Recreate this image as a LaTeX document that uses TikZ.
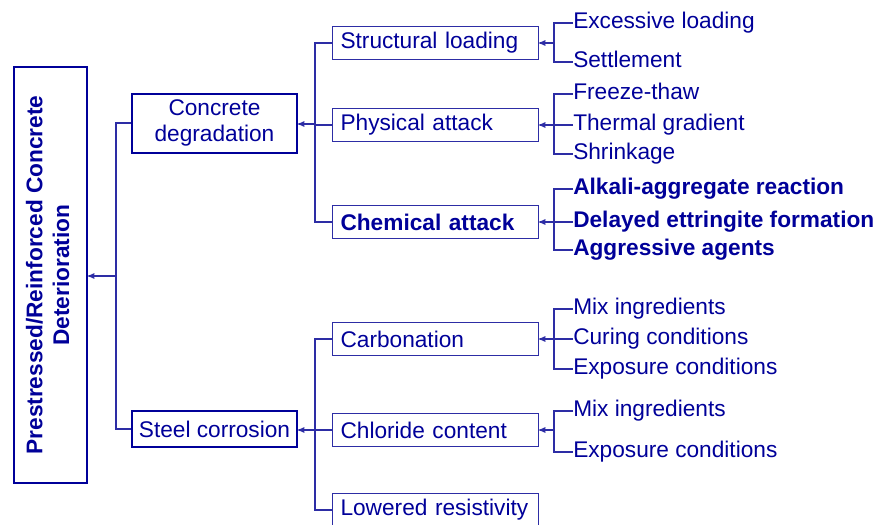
\documentclass[tikz,border=0pt]{standalone}
\usepackage{fontspec}
\setmainfont{Liberation Sans}
\usepackage{tikz}
\usetikzlibrary{arrows}

\definecolor{navy}{RGB}{0,0,153}
\definecolor{linec}{RGB}{45,45,165}

\begin{document}
\begin{tikzpicture}[x=0.75pt,y=-0.75pt,>=stealth',
    font=\fontsize{17}{20}\selectfont,text=navy,
    mainbox/.style={draw=navy,line width=1.5pt,minimum width=54.75pt,minimum height=312pt,inner sep=0pt},
    topbox/.style={draw=navy,line width=1.5pt,minimum width=123.75pt,align=center,inner sep=0pt},
    midbox/.style={draw=linec,line width=0.8pt,anchor=west,minimum width=154.5pt,minimum height=24.75pt,
                   inner xsep=6pt,inner ysep=0pt,text width=142.5pt,align=left},
    leaf/.style={anchor=west,inner sep=0pt,text height=12pt,text depth=3.5pt},
    conn/.style={draw=linec,line width=0.8pt}]

\useasboundingbox (0,0) rectangle (876,525);

% root
\node[mainbox] (main) at (50.5,275) {\rotatebox{90}{\bfseries\begin{tabular}{@{}c@{}}Prestressed/Reinforced Concrete\\Deterioration\end{tabular}}};

% first level
\node[topbox,minimum height=44.25pt] (con) at (214.5,123) {Concrete\\degradation};
\node[topbox,minimum height=27pt] (ste) at (214.5,429) {Steel corrosion};

% second level
\node[midbox] (str) at (332,43) {Structural loading};
\node[midbox] (phy) at (332,125) {Physical attack};
\node[midbox,font=\fontsize{17}{20}\selectfont\bfseries] (che) at (332,222) {Chemical attack};
\node[midbox] (car) at (332,339) {Carbonation};
\node[midbox] (chl) at (332,430) {Chloride content};
\node[midbox] (low) at (332,510) {Lowered resistivity};

% causes
\node[leaf] (exl) at (573,23) {Excessive loading};
\node[leaf] (set) at (573,62) {Settlement};
\node[leaf] (frt) at (573,94) {Freeze-thaw};
\node[leaf] (thg) at (573,125) {Thermal gradient};
\node[leaf] (shr) at (573,154) {Shrinkage};
\node[leaf,font=\fontsize{17}{20}\selectfont\bfseries] (aar) at (573,189) {Alkali-aggregate reaction};
\node[leaf,font=\fontsize{17}{20}\selectfont\bfseries] (def) at (573,222) {Delayed ettringite formation};
\node[leaf,font=\fontsize{17}{20}\selectfont\bfseries] (agg) at (573,250) {Aggressive agents};
\node[leaf] (mix1) at (573,309) {Mix ingredients};
\node[leaf] (cur) at (573,339) {Curing conditions};
\node[leaf] (exp1) at (573,369) {Exposure conditions};
\node[leaf] (mix2) at (573,411) {Mix ingredients};
\node[leaf] (exp2) at (573,452) {Exposure conditions};

% junctions
\coordinate (jtop) at (116,276);
\coordinate (jcon) at (315,124);
\coordinate (jste) at (315,430);
\coordinate (jstr) at (554,43);
\coordinate (jphy) at (554,125);
\coordinate (jche) at (554,222);
\coordinate (jcar) at (554,339);
\coordinate (jchl) at (554,430);

% brackets
\draw[conn] (exl.west) -| (jstr) |- (set.west);
\draw[conn] (frt.west) -| (jphy) |- (shr.west);
\draw[conn] (thg.west) -- (jphy);
\draw[conn] (aar.west) -| (jche) |- (agg.west);
\draw[conn] (def.west) -- (jche);
\draw[conn] (mix1.west) -| (jcar) |- (exp1.west);
\draw[conn] (cur.west) -- (jcar);
\draw[conn] (mix2.west) -| (jchl) |- (exp2.west);
\draw[conn] (str.west) -| (jcon) |- (che.west);
\draw[conn] (phy.west) -- (phy.west -| jcon);
\draw[conn] (car.west) -| (jste) |- (low.west);
\draw[conn] (chl.west) -- (chl.west -| jste);
\draw[conn] (con.west) -| (jtop) |- (ste.west);

% arrows
\draw[conn,->] (jstr) -- (jstr -| str.east);
\draw[conn,->] (jphy) -- (jphy -| phy.east);
\draw[conn,->] (jche) -- (jche -| che.east);
\draw[conn,->] (jcar) -- (jcar -| car.east);
\draw[conn,->] (jchl) -- (jchl -| chl.east);
\draw[conn,->] (jcon) -- (jcon -| con.east);
\draw[conn,->] (jste) -- (jste -| ste.east);
\draw[conn,->] (jtop) -- (jtop -| main.east);
\end{tikzpicture}
\end{document}
